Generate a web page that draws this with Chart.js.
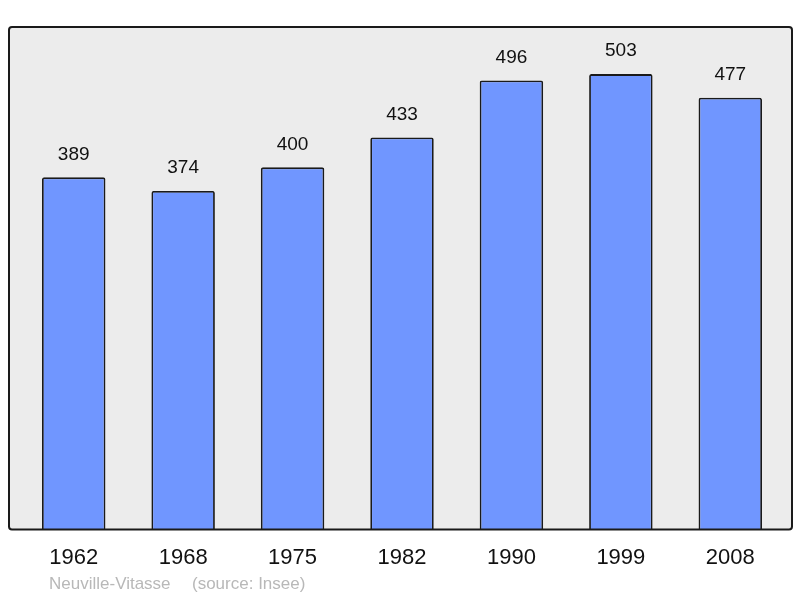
<!DOCTYPE html>
<html>
<head>
<meta charset="utf-8">
<script src="https://cdn.jsdelivr.net/npm/chart.js@4/dist/chart.umd.min.js"></script>
<style>
  html, body { margin: 0; padding: 0; background: #fff; }
  canvas { display: block; }
</style>
</head>
<body>
<canvas id="pop-chart" width="800" height="598"></canvas>
<script>
// population by census year
const years = ['1962', '1968', '1975', '1982', '1990', '1999', '2008'];
const population = [389, 374, 400, 433, 496, 503, 477];
const townName = 'Neuville-Vitasse';
const sourceNote = '(source: Insee)';

// gray box with black frame behind the bars
const frameBox = {
  id: 'frameBox',
  beforeDatasetsDraw(chart) {
    const { ctx, chartArea } = chart;
    const x0 = chartArea.left - 10, x1 = chartArea.right + 7;
    const y0 = chartArea.top, y1 = chartArea.bottom;
    ctx.save();
    ctx.beginPath();
    ctx.roundRect(x0, y0, x1 - x0, y1 - y0, 3);
    ctx.fillStyle = '#ececec';
    ctx.fill();
    ctx.restore();
  },
  afterDatasetsDraw(chart) {
    const { ctx, chartArea } = chart;
    const x0 = chartArea.left - 10, x1 = chartArea.right + 7;
    const y0 = chartArea.top, y1 = chartArea.bottom;
    ctx.save();
    ctx.beginPath();
    ctx.roundRect(x0, y0, x1 - x0, y1 - y0, 3);
    ctx.lineWidth = 2;
    ctx.strokeStyle = '#1a1a1a';
    ctx.stroke();
    ctx.restore();
  }
};

// numbers above each bar + footer text
const valueLabels = {
  id: 'valueLabels',
  afterDraw(chart) {
    const { ctx } = chart;
    const meta = chart.getDatasetMeta(0);
    ctx.save();
    ctx.font = '19px "Liberation Sans", Arial, sans-serif';
    ctx.fillStyle = '#111';
    ctx.textAlign = 'center';
    ctx.textBaseline = 'middle';
    meta.data.forEach((bar, i) => {
      ctx.fillText(String(population[i]), bar.x, bar.y - 23);
    });
    ctx.font = '17px "Liberation Sans", Arial, sans-serif';
    ctx.fillStyle = '#b8b8b8';
    ctx.textAlign = 'left';
    ctx.textBaseline = 'alphabetic';
    ctx.fillText(townName, 49, 589);
    ctx.fillText(sourceNote, 192, 589);
    ctx.restore();
  }
};

new Chart(document.getElementById('pop-chart').getContext('2d'), {
  type: 'bar',
  data: {
    labels: years,
    datasets: [{
      data: population,
      backgroundColor: '#7096ff',
      borderColor: '#1a1a1a',
      borderWidth: 1.8,
      borderRadius: 2,
      borderSkipped: 'bottom',
      barPercentage: 0.58,
      categoryPercentage: 1
    }]
  },
  options: {
    responsive: false,
    animation: false,
    devicePixelRatio: 1,
    layout: { padding: { left: 19, right: 15, top: 27, bottom: 12 } },
    plugins: { legend: { display: false }, tooltip: { enabled: false } },
    scales: {
      x: {
        grid: { display: false, drawTicks: false },
        border: { display: false },
        ticks: {
          padding: 15,
          maxRotation: 0,
          minRotation: 0,
          autoSkip: false,
          color: '#111',
          font: { family: '"Liberation Sans", Arial, sans-serif', size: 22 }
        }
      },
      y: {
        display: false,
        min: 0,
        max: 555
      }
    }
  },
  plugins: [frameBox, valueLabels]
});
</script>
</body>
</html>
